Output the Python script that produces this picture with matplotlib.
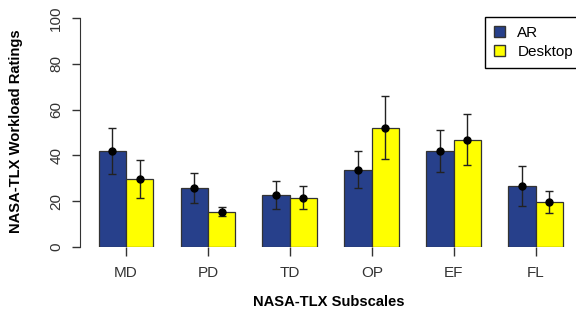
import numpy as np
from matplotlib import pyplot as plt
from matplotlib.patches import Patch

subscales = ['MD', 'PD', 'TD', 'OP', 'EF', 'FL']
ar_mean = [42.0, 25.8, 22.6, 33.8, 42.0, 26.5]
ar_err = [10.0, 6.5, 6.2, 8.0, 9.3, 8.7]
desk_mean = [29.7, 15.4, 21.5, 52.1, 46.9, 19.5]
desk_err = [8.1, 1.9, 5.0, 13.8, 11.2, 4.8]

blue = '#27408B'
yellow = '#FFFF00'
plt.rcParams['font.family'] = ['Liberation Sans', 'DejaVu Sans']

fig = plt.figure(figsize=(5.76, 3.2), dpi=100)
# axes run slightly past the right edge, like the cropped original
ax = fig.add_axes([80 / 576, 73 / 320, 501.6 / 576, 229 / 320])

centers = np.arange(len(subscales)) * 3 + 2
ax.bar(centers - 0.5, ar_mean, width=1, color=blue, edgecolor='#333333', linewidth=0.9)
ax.bar(centers + 0.5, desk_mean, width=1, color=yellow, edgecolor='#333333', linewidth=0.9)
ax.errorbar(centers - 0.5, ar_mean, yerr=ar_err, fmt='o', color='black', ecolor='#222222',
            elinewidth=1, capsize=3, capthick=1, markersize=5, clip_on=False)
ax.errorbar(centers + 0.5, desk_mean, yerr=desk_err, fmt='o', color='black', ecolor='#222222',
            elinewidth=1, capsize=3, capthick=1, markersize=5, clip_on=False)

ax.set_xlim(0.32, 18.68)
ax.set_ylim(0, 100)
for s in ['top', 'right', 'bottom']:
    ax.spines[s].set_visible(False)
ax.spines['left'].set_bounds(0, 100)
ax.spines['left'].set_color('#333333')

ax.set_yticks([0, 20, 40, 60, 80, 100])
ax.set_yticklabels(['0', '20', '40', '60', '80', '100'], rotation=90, va='center')
ax.tick_params(axis='y', length=6, width=1, pad=6, labelsize=11, colors='#333333')
ax.set_xticks(centers)
ax.set_xticklabels(subscales)
ax.tick_params(axis='x', length=6.5, width=1, pad=7.5, labelsize=11, colors='#333333')

fig.text(16 / 576, 1 - 131 / 320, 'NASA-TLX Workload Ratings', rotation=90,
         ha='center', va='center', fontsize=10.6, fontweight='bold')
fig.text(329 / 576, 1 - 302 / 320, 'NASA-TLX Subscales',
         ha='center', va='center', fontsize=10.6, fontweight='bold')

handles = [Patch(facecolor=blue, edgecolor='#333333'), Patch(facecolor=yellow, edgecolor='#333333')]
leg = fig.legend(handles, ['AR', 'Desktop'], loc='upper left',
                 bbox_to_anchor=(485 / 576, 1 - 17 / 320), fontsize=11,
                 fancybox=False, framealpha=1, edgecolor='black',
                 handlelength=0.72, handleheight=0.72, handletextpad=0.8,
                 labelspacing=0.3, borderpad=0.6, borderaxespad=0)
leg.get_frame().set_linewidth(1)

plt.savefig('out.png', dpi=100)
